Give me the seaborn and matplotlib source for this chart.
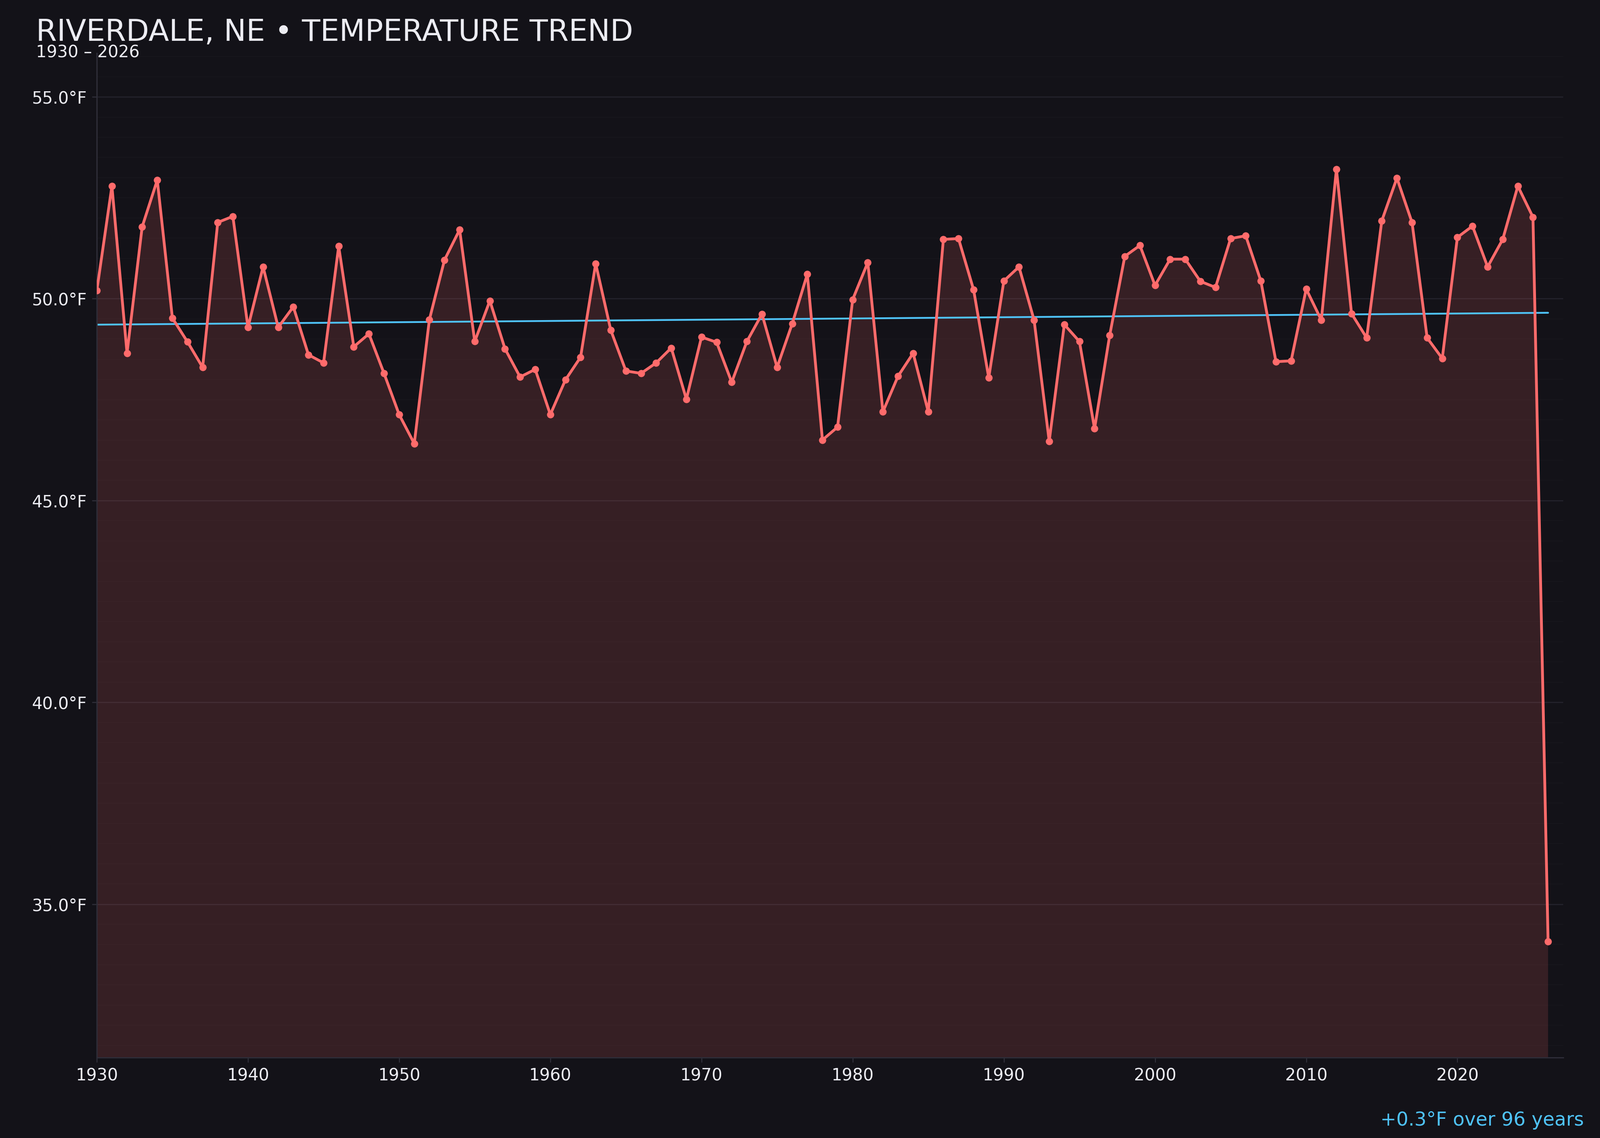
import numpy as np
import pandas as pd
import matplotlib
matplotlib.use("Agg")
import matplotlib.pyplot as plt
from matplotlib.ticker import MultipleLocator, FuncFormatter
import seaborn as sns

# ==========================
# Data
# ==========================
years = list(range(1930, 2027))
temps = [
    50.20, 52.79, 48.65, 51.78, 52.94, 49.52, 48.93, 48.30, 51.89, 52.04,  # 1930s
    49.29, 50.79, 49.29, 49.80, 48.61, 48.41, 51.30, 48.81, 49.13, 48.15,  # 1940s
    47.13, 46.41, 49.48, 50.96, 51.71, 48.94, 49.95, 48.76, 48.06, 48.25,  # 1950s
    47.13, 47.99, 48.55, 50.87, 49.22, 48.21, 48.15, 48.41, 48.78, 47.51,  # 1960s
    49.05, 48.92, 47.93, 48.94, 49.62, 48.30, 49.38, 50.61, 46.50, 46.82,  # 1970s
    49.98, 50.90, 47.20, 48.08, 48.65, 47.20, 51.47, 51.49, 50.22, 48.04,  # 1980s
    50.44, 50.79, 49.47, 46.47, 49.36, 48.94, 46.78, 49.09, 51.05, 51.32,  # 1990s
    50.33, 50.98, 50.98, 50.43, 50.28, 51.49, 51.56, 50.44, 48.44, 48.46,  # 2000s
    50.24, 49.47, 53.21, 49.63, 49.03, 51.93, 52.99, 51.89, 49.03, 48.52,  # 2010s
    51.52, 51.80, 50.79, 51.47, 52.79, 52.02,                              # 2020s
    34.07,                                                                 # 2026 (partial)
]

title = "RIVERDALE, NE \u2022 TEMPERATURE TREND"
subtitle = f"{years[0]} \u2013 {years[-1]}"

df = pd.DataFrame({"year": years, "temp": temps})

# linear trend over the full record
slope, intercept = np.polyfit(df["year"], df["temp"], 1)
df["trend"] = slope * df["year"] + intercept
span = years[-1] - years[0]
trend_label = f"{slope * span:+.1f}\u00b0F over {span} years"

# ==========================
# Style
# ==========================
BG = "#131218"
LINE = "#ff6b6b"
TREND = "#4fc3f7"
TEXT = "#ececf2"
SPINE = "#2e2d38"

sns.set_theme(style="dark")
plt.rcParams.update({
    "figure.facecolor": BG,
    "axes.facecolor": BG,
    "savefig.facecolor": BG,
    "axes.edgecolor": SPINE,
    "text.color": TEXT,
    "xtick.color": SPINE,
    "ytick.color": SPINE,
    "xtick.labelcolor": TEXT,
    "ytick.labelcolor": TEXT,
})
plt.rcParams["font.family"] = ["DejaVu Sans"]

fig = plt.figure(figsize=(16, 11.376), dpi=250)
ax = fig.add_axes([0.0605, 0.0707, 0.9165, 0.8825])

ax.fill_between(df["year"], df["temp"], 0, color=LINE, alpha=0.15, linewidth=0, zorder=1)
sns.lineplot(data=df, x="year", y="trend", ax=ax, color=TREND, linewidth=1.3, zorder=2)
sns.lineplot(data=df, x="year", y="temp", ax=ax, color=LINE, linewidth=2.0,
             marker="o", markersize=5.2, markeredgewidth=0, zorder=3)

lo, hi = min(temps), max(temps)
pad = (hi - lo) * 0.15
ax.set_ylim(lo - pad, hi + pad)
ax.set_xlim(years[0], years[-1] + 1)

ax.yaxis.set_major_locator(MultipleLocator(5))
ax.yaxis.set_minor_locator(MultipleLocator(0.5))
ax.xaxis.set_major_locator(MultipleLocator(10))
ax.yaxis.set_major_formatter(FuncFormatter(lambda v, p: f"{v:.1f}\u00b0F"))
ax.xaxis.set_major_formatter(FuncFormatter(lambda v, p: f"{int(v)}"))

ax.grid(False)
ax.grid(axis="y", which="major", color="#22212a", linewidth=0.9, zorder=0)
ax.grid(axis="y", which="minor", color="#17161c", linewidth=0.6, zorder=0)
ax.set_axisbelow(True)

ax.tick_params(axis="both", which="major", length=3.5, width=0.8, labelsize=12, pad=3.5,
               bottom=True, left=True)
ax.tick_params(axis="both", which="minor", length=0)

for side in ["top", "right"]:
    ax.spines[side].set_visible(False)
for side in ["left", "bottom"]:
    ax.spines[side].set_color(SPINE)
    ax.spines[side].set_linewidth(0.9)

ax.set_xlabel("")
ax.set_ylabel("")

fig.text(0.0225, 0.9641, title, fontsize=21.6, color=TEXT, va="baseline", ha="left")
fig.text(0.0225, 0.9494, subtitle, fontsize=12, color=TEXT, va="baseline", ha="left")
fig.text(0.990, 0.0109, trend_label, fontsize=13.7, color=TREND, va="baseline", ha="right")

plt.savefig("out.png", dpi=250)
plt.close()
